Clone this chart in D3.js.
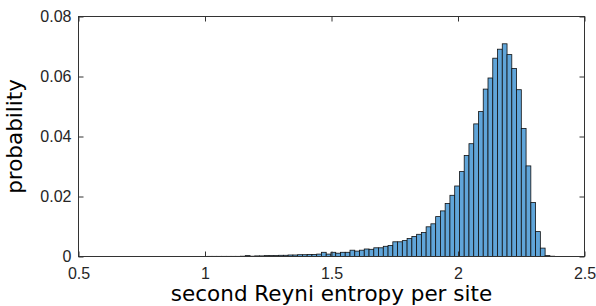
<!DOCTYPE html>
<html>
<head>
<meta charset="utf-8">
<script src="https://cdn.jsdelivr.net/npm/d3@7"></script>
<style>
  body { margin: 0; background: #fff; }
  svg { display: block; }
</style>
</head>
<body>
<div id="chart"></div>
<script>
// Histogram: probability per bin, bins of equal width starting at binStart
const binStart = 1.0088;
const binWidth = 0.01881;
const probabilities = [
  0.00005, 0.00005, 0.00005, 0.00005, 0.00005, 0.00005, 0.00005,
  0.0001, 0.0003, 0.0001, 0.0002, 0.0002, 0.0003, 0.0003, 0.0003,
  0.0004, 0.0004, 0.0005, 0.0005, 0.0006, 0.0006, 0.0007, 0.0007, 0.0008,
  0.0014, 0.0008, 0.0014, 0.0011, 0.0014, 0.0014, 0.0021, 0.0018, 0.0021,
  0.0025, 0.0024, 0.0029, 0.0029, 0.0034, 0.0037, 0.0049, 0.0049, 0.0053,
  0.0060, 0.0067, 0.0074, 0.0080, 0.0099, 0.0109, 0.0133, 0.0152, 0.0177,
  0.0204, 0.0235, 0.0283,
  0.0337, 0.0376, 0.0442, 0.0483, 0.0558, 0.0595, 0.0661, 0.0691, 0.0709,
  0.0673, 0.0627, 0.0556, 0.0427, 0.0302, 0.0180, 0.0083, 0.0028, 0.0003,
  0.0001
];
const xTicks = [0.5, 1, 1.5, 2, 2.5];
const yTicks = [0, 0.02, 0.04, 0.06, 0.08];
const xTitle = "second Reyni entropy per site";
const yTitle = "probability";

const bins = probabilities.map((p, i) => ({
  x0: binStart + i * binWidth,
  x1: binStart + (i + 1) * binWidth,
  p: p
}));

const width = 596, height = 306;
const plot = { left: 78.5, right: 584.5, top: 16.5, bottom: 256.5 };
const axisColor = "#333";
const tickLen = 5;

const svg = d3.select("#chart").append("svg")
  .attr("width", width)
  .attr("height", height);

const x = d3.scaleLinear().domain([0.5, 2.5]).range([plot.left, plot.right]);
const y = d3.scaleLinear().domain([0, 0.08]).range([plot.bottom, plot.top]);

// Bars
svg.append("g")
  .selectAll("rect")
  .data(bins)
  .join("rect")
  .attr("x", d => x(d.x0))
  .attr("y", d => y(d.p))
  .attr("width", d => x(d.x1) - x(d.x0))
  .attr("height", d => y(0) - y(d.p))
  .attr("fill", "#60a5d9")
  .attr("stroke", "#111")
  .attr("stroke-width", 0.8);

// Box
svg.append("rect")
  .attr("x", plot.left)
  .attr("y", plot.top)
  .attr("width", plot.right - plot.left)
  .attr("height", plot.bottom - plot.top)
  .attr("fill", "none")
  .attr("stroke", axisColor)
  .attr("stroke-width", 1);

// Axes with inward ticks (mirrored on top and right)
const tickFont = "'Liberation Sans', Arial, sans-serif";

const xAxis = svg.append("g")
  .attr("transform", `translate(0,${plot.bottom})`)
  .call(d3.axisBottom(x).tickValues(xTicks).tickFormat(d3.format("")).tickSizeInner(-tickLen).tickSizeOuter(0).tickPadding(11));
const xTop = svg.append("g")
  .attr("transform", `translate(0,${plot.top})`)
  .call(d3.axisTop(x).tickValues(xTicks).tickFormat("").tickSizeInner(-tickLen).tickSizeOuter(0));
const yAxis = svg.append("g")
  .attr("transform", `translate(${plot.left},0)`)
  .call(d3.axisLeft(y).tickValues(yTicks).tickFormat(d3.format("")).tickSizeInner(-tickLen).tickSizeOuter(0).tickPadding(7));
const yRight = svg.append("g")
  .attr("transform", `translate(${plot.right},0)`)
  .call(d3.axisRight(y).tickValues(yTicks).tickFormat("").tickSizeInner(-tickLen).tickSizeOuter(0));

[xAxis, xTop, yAxis, yRight].forEach(g => {
  g.select(".domain").remove();
  g.selectAll("line").attr("stroke", axisColor);
  g.selectAll("text")
    .attr("fill", "#262626")
    .style("font-family", tickFont)
    .style("font-size", "16px");
});

// Axis titles
svg.append("text")
  .attr("x", (plot.left + plot.right) / 2)
  .attr("y", 301)
  .attr("text-anchor", "middle")
  .style("font-family", "'DejaVu Sans', Verdana, sans-serif")
  .style("font-size", "21.5px")
  .attr("fill", "#000")
  .text(xTitle);

svg.append("text")
  .attr("transform", `translate(22,${(plot.top + plot.bottom) / 2}) rotate(-90)`)
  .attr("text-anchor", "middle")
  .style("font-family", "'DejaVu Sans', Verdana, sans-serif")
  .style("font-size", "21.5px")
  .attr("fill", "#000")
  .text(yTitle);
</script>
</body>
</html>
